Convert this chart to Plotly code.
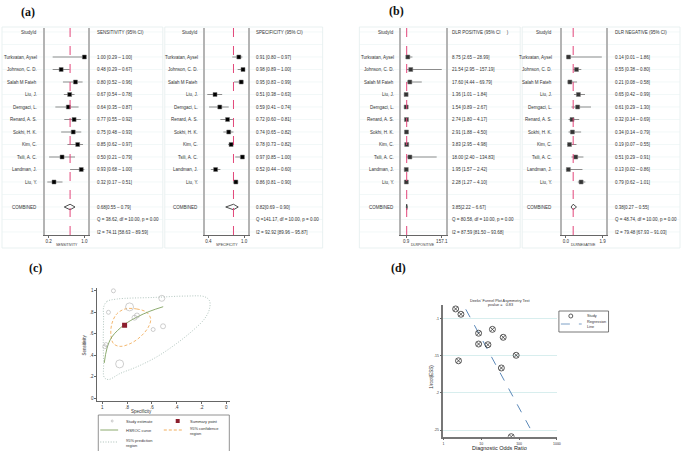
import plotly.graph_objects as go

W, H = 685, 451
FONT = "Liberation Sans Narrow, Liberation Sans, Arial, sans-serif"

# --- data ---
studies = ["Turkvatan, Aysel", "Johnson, C. D.", "Salah M Fateh", "Liu, J.", "Demgaci, L.",
           "Renard, A. S.", "Sokhi, H. K.", "Kim, C.", "Tsili, A. C.", "Landman, J.", "Liu, Y."]

sens = [1.00, 0.48, 0.80, 0.67, 0.64, 0.77, 0.75, 0.85, 0.50, 0.93, 0.32]
sens_lo = [0.29, 0.29, 0.52, 0.54, 0.35, 0.55, 0.48, 0.62, 0.21, 0.68, 0.17]
sens_hi = [1.00, 0.67, 0.96, 0.78, 0.87, 0.92, 0.93, 0.97, 0.79, 1.00, 0.51]
sens_pooled = [0.68, 0.55, 0.79]
sens_stats = ["Q = 38.62, df = 10.00, p = 0.00", "I2 = 74.11 [58.63 – 89.59]"]

spec = [0.91, 0.98, 0.95, 0.51, 0.59, 0.72, 0.74, 0.78, 0.97, 0.52, 0.86]
spec_lo = [0.80, 0.89, 0.83, 0.38, 0.41, 0.60, 0.65, 0.73, 0.85, 0.44, 0.81]
spec_hi = [0.97, 1.00, 0.99, 0.63, 0.74, 0.81, 0.82, 0.82, 1.00, 0.60, 0.90]
spec_pooled = [0.82, 0.69, 0.90]
spec_stats = ["Q =141.17, df = 10.00, p = 0.00", "I2 = 92.92 [89.96 – 95.87]"]

dlrp = [8.75, 21.54, 17.60, 1.36, 1.54, 2.74, 2.91, 3.83, 18.00, 1.95, 2.28]
dlrp_lo = [2.65, 2.95, 4.44, 1.01, 0.89, 1.80, 1.88, 2.95, 2.40, 1.57, 1.27]
dlrp_hi = [28.99, 157.19, 69.79, 1.84, 2.67, 4.17, 4.50, 4.98, 134.83, 2.42, 4.10]
dlrp_pooled = [3.85, 2.22, 6.67]
dlrp_stats = ["Q = 80.58, df = 10.00, p = 0.00", "I2 = 87.59 [81.50 – 93.68]"]

dlrn = [0.14, 0.55, 0.21, 0.65, 0.61, 0.32, 0.34, 0.19, 0.51, 0.13, 0.79]
dlrn_lo = [0.01, 0.38, 0.08, 0.42, 0.29, 0.14, 0.14, 0.07, 0.29, 0.02, 0.62]
dlrn_hi = [1.86, 0.80, 0.58, 0.99, 1.30, 0.69, 0.79, 0.55, 0.91, 0.86, 1.01]
dlrn_pooled = [0.38, 0.27, 0.55]
dlrn_stats = ["Q = 48.74, df = 10.00, p = 0.00", "I2 = 79.48 [67.93 – 91.03]"]

# SROC (panel c)
roc_size = [4, 4, 4, 5, 4, 5, 5, 8, 4, 6, 8]
hsroc_spec = [0.984, 0.963, 0.923, 0.824, 0.723, 0.616, 0.509]
hsroc_sens = [0.329, 0.46, 0.57, 0.683, 0.754, 0.81, 0.852]
conf_spec = [0.816, 0.722, 0.642, 0.61, 0.629, 0.696, 0.776, 0.856, 0.909, 0.93, 0.923, 0.883, 0.816]
conf_sens = [0.831, 0.831, 0.80, 0.739, 0.661, 0.569, 0.508, 0.483, 0.508, 0.584, 0.692, 0.785, 0.831]
pred_spec = [0.989, 0.963, 0.883, 0.589, 0.323, 0.176, 0.136, 0.136, 0.176, 0.27, 0.403,
             0.563, 0.723, 0.856, 0.949, 0.984, 0.989, 0.992, 0.989, 0.989]
pred_sens = [0.846, 0.90, 0.923, 0.938, 0.951, 0.945, 0.908, 0.831, 0.739, 0.631, 0.508,
             0.384, 0.292, 0.231, 0.175, 0.194, 0.323, 0.538, 0.754, 0.846]

# Deeks' funnel plot (panel d)
deeks_dor = [2.1, 2.9, 8.5, 19.7, 38, 8.5, 15, 83.6, 2.5, 34, 61.9]
deeks_iess = [0.0875, 0.0946, 0.120, 0.1148, 0.1255, 0.1345, 0.1354, 0.1496, 0.157, 0.1666, 0.2587]
reg_dor = [3.9, 252]
reg_iess = [0.088, 0.2578]


def px(x):
    return x / W


def py(y):
    return 1 - y / H


fig = go.Figure()
shapes = []
annotations = []


def txt(x, y, s, size=4.5, xanchor="left", yref="paper", color="#333", **kw):
    annotations.append(dict(x=x, y=y, xref="paper", yref=yref, text=s, showarrow=False,
                            xanchor=xanchor, yanchor="middle",
                            font=dict(size=size, color=color, family=FONT), **kw))


forests = [
    dict(est=sens, lo=sens_lo, hi=sens_hi, pooled=sens_pooled, stats=sens_stats,
         header="SENSITIVITY (95% CI)", title="SENSITIVITY", name_x=38, ax=(44, 88), text_x=95,
         box=(1, 163), rng=[0.111, 1.089], tv=[0.2, 1.0], tt=["0.2", "1.0"], mk="black"),
    dict(est=spec, lo=spec_lo, hi=spec_hi, pooled=spec_pooled, stats=spec_stats,
         header="SPECIFICITY (95% CI)", title="SPECIFICITY", name_x=200, ax=(206, 249), text_x=255,
         box=(165, 324), rng=[0.35, 1.067], tv=[0.4, 1.0], tt=["0.4", "1.0"], mk="black"),
    dict(est=dlrp, lo=dlrp_lo, hi=dlrp_hi, pooled=dlrp_pooled, stats=dlrp_stats,
         header="DLR POSITIVE (95% CI     )", title="DLRPOSITIVE", name_x=398, ax=(403, 448), text_x=452,
         box=(361, 523), rng=[-20.8, 174.5], tv=[0.9, 157.1], tt=["0.9", "157.1"], mk="#333"),
    dict(est=dlrn, lo=dlrn_lo, hi=dlrn_hi, pooled=dlrn_pooled, stats=dlrn_stats,
         header="DLR NEGATIVE (95% CI)", title="DLRNEGATIVE", name_x=557, ax=(565, 609), text_x=616,
         box=(525, 684), rng=[-0.205, 2.054], tv=[0.0, 1.9], tt=["0.0", "1.9"], mk="#333"),
]

rows = list(range(2, 2 + len(studies)))
for i, f in enumerate(forests, start=1):
    sfx = "" if i == 1 else str(i)
    xa, ya = "x" + sfx, "y" + sfx
    # faint row lines and panel box
    shapes.append(dict(type="rect", xref="paper", yref="paper", x0=px(f["box"][0]), x1=px(f["box"][1]),
                       y0=py(248), y1=py(27), line=dict(color="#e3eeee", width=0.8), layer="below"))
    for r in range(0, 17):
        shapes.append(dict(type="line", xref="paper", yref=ya, x0=px(f["box"][0]), x1=px(f["box"][1]),
                           y0=r, y1=r, line=dict(color="#eaf4f4", width=0.6), layer="below"))
    cx, cy = [], []
    for k, r in enumerate(rows):
        cx += [f["lo"][k], f["hi"][k], None]
        cy += [r, r, None]
    fig.add_trace(go.Scatter(x=cx, y=cy, mode="lines", line=dict(color="#8c8c8c", width=1),
                             xaxis=xa, yaxis=ya, showlegend=False, hoverinfo="skip"))
    fig.add_trace(go.Scatter(x=f["est"], y=rows, mode="markers",
                             marker=dict(symbol="square", size=4, color=f["mk"],
                                         line=dict(color="#777", width=0.5)),
                             xaxis=xa, yaxis=ya, showlegend=False))
    pe, pl, ph = f["pooled"]
    fig.add_trace(go.Scatter(x=[pl, pe, ph, pe, pl], y=[14, 13.78, 14, 14.22, 14], mode="lines",
                             line=dict(color="#222", width=0.8), xaxis=xa, yaxis=ya, showlegend=False))
    shapes.append(dict(type="line", xref=xa, yref=ya + " domain", x0=pe, x1=pe, y0=0, y1=1,
                       line=dict(color="#e2467a", width=1, dash="dash")))
    fig.update_layout({
        "xaxis" + sfx: dict(domain=[px(f["ax"][0]), px(f["ax"][1])], range=f["rng"], anchor=ya,
                            showline=True, linecolor="#666", linewidth=1, ticks="outside", ticklen=2,
                            tickcolor="#666", tickvals=f["tv"], ticktext=f["tt"], showgrid=False,
                            zeroline=False, tickfont=dict(size=4.5, color="#333", family=FONT)),
        "yaxis" + sfx: dict(domain=[py(235), py(28)], range=[16.24, -0.32], anchor=xa,
                            showline=True, mirror=True, linecolor="#b4b4b4", linewidth=2,
                            showticklabels=False, ticks="", showgrid=False, zeroline=False),
    })
    # text columns
    txt(px(f["name_x"]), 0, "StudyId", xanchor="right", yref=ya)
    txt(px(f["text_x"]), 0, f["header"], yref=ya)
    for k, r in enumerate(rows):
        txt(px(f["name_x"]), r, studies[k], xanchor="right", yref=ya)
        txt(px(f["text_x"]), r, f"{f['est'][k]:.2f} [{f['lo'][k]:.2f} – {f['hi'][k]:.2f}]", yref=ya)
    txt(px(f["name_x"]), 14, "COMBINED", xanchor="right", yref=ya)
    txt(px(f["text_x"]), 14, f"{pe:.2f}[{pl:.2f} – {ph:.2f}]", yref=ya)
    txt(px(f["text_x"]), 15, f["stats"][0], yref=ya)
    txt(px(f["text_x"]), 16, f["stats"][1], yref=ya)
    txt(px(sum(f["ax"]) / 2), py(245), f["title"], size=3.5, xanchor="center")

# --- panel (c): SROC ---
fig.add_trace(go.Scatter(x=pred_spec, y=pred_sens, mode="lines",
                         line=dict(color="#9fb7ae", width=0.8, dash="1px,1.6px"),
                         xaxis="x5", yaxis="y5", showlegend=False, line_shape="spline"))
fig.add_trace(go.Scatter(x=conf_spec, y=conf_sens, mode="lines",
                         line=dict(color="#f0a54a", width=0.8, dash="3px,2px"),
                         xaxis="x5", yaxis="y5", showlegend=False, line_shape="spline"))
fig.add_trace(go.Scatter(x=hsroc_spec, y=hsroc_sens, mode="lines", line=dict(color="#7fa05e", width=0.9),
                         xaxis="x5", yaxis="y5", showlegend=False, line_shape="spline"))
fig.add_trace(go.Scatter(x=spec, y=sens, mode="markers",
                         marker=dict(symbol="circle-open", size=roc_size, color="#a8a8a8", line=dict(width=0.8)),
                         xaxis="x5", yaxis="y5", showlegend=False))
fig.add_trace(go.Scatter(x=[spec_pooled[0]], y=[sens_pooled[0]], mode="markers",
                         marker=dict(symbol="square", size=5, color="#8b1e2d"),
                         xaxis="x5", yaxis="y5", showlegend=False))
roc_ticks = [1, 0.8, 0.6, 0.4, 0.2, 0]
roc_text = ["1", ".8", ".6", ".4", ".2", "0"]
fig.update_layout(
    xaxis5=dict(domain=[px(97), px(231)], range=[1.04, -0.032], anchor="y5", showline=True, linecolor="#666",
                linewidth=1, ticks="outside", ticklen=2, tickcolor="#666", tickvals=roc_ticks, ticktext=roc_text,
                showgrid=False, zeroline=False, tickfont=dict(size=4.5, color="#333", family=FONT)),
    yaxis5=dict(domain=[py(401), py(288)], range=[-0.025, 1.026], anchor="x5", showline=True, linecolor="#666",
                linewidth=1, ticks="outside", ticklen=2, tickcolor="#666", tickvals=roc_ticks, ticktext=roc_text,
                showgrid=False, zeroline=False, tickfont=dict(size=4.5, color="#333", family=FONT)),
)
txt(px(142), py(411), "Specificity", size=4.5, xanchor="center")
txt(px(84), py(345), "Sensitivity", size=4.5, xanchor="center", textangle=-90)
# legend (c)
shapes.append(dict(type="rect", xref="paper", yref="paper", x0=px(98), x1=px(230), y0=py(452), y1=py(415),
                   line=dict(color="#777", width=0.8)))
shapes.append(dict(type="circle", xref="paper", yref="paper", x0=px(111), x1=px(113), y0=py(422), y1=py(420),
                   line=dict(color="#aaa", width=0.6)))
shapes.append(dict(type="rect", xref="paper", yref="paper", x0=px(176), x1=px(180), y0=py(423), y1=py(419),
                   fillcolor="#8b1e2d", line=dict(width=0)))
shapes.append(dict(type="line", xref="paper", yref="paper", x0=px(100), x1=px(118), y0=py(430), y1=py(430),
                   line=dict(color="#7fa05e", width=0.9)))
shapes.append(dict(type="line", xref="paper", yref="paper", x0=px(164), x1=px(183), y0=py(430), y1=py(430),
                   line=dict(color="#f0a54a", width=0.9, dash="3px,2px")))
shapes.append(dict(type="line", xref="paper", yref="paper", x0=px(100), x1=px(118), y0=py(442), y1=py(442),
                   line=dict(color="#9fb7ae", width=0.9, dash="1px,1.6px")))
txt(px(124), py(421), "Study estimate", size=4)
txt(px(188), py(421), "Summary point", size=4)
txt(px(124), py(430), "HSROC curve", size=4)
txt(px(188), py(430.5), "95% confidence<br>region", size=4, align="left")
txt(px(124), py(442.5), "95% prediction<br>region", size=4, align="left")

# --- panel (d): Deeks' funnel plot ---
fig.add_trace(go.Scatter(x=reg_dor, y=reg_iess, mode="lines", line=dict(color="#5b88b8", width=1, dash="dash"),
                         xaxis="x6", yaxis="y6", showlegend=False))
fig.add_trace(go.Scatter(x=deeks_dor, y=deeks_iess, mode="markers",
                         marker=dict(symbol="circle-x-open", size=6, color="#333", line=dict(width=0.8)),
                         xaxis="x6", yaxis="y6", showlegend=False))
fig.update_layout(
    xaxis6=dict(domain=[px(445.7), px(560)], type="log", range=[0, 3], anchor="y6", showline=True,
                linecolor="#777", linewidth=1.5, ticks="outside", ticklen=2, tickcolor="#666",
                tickvals=[1, 10, 100, 1000], ticktext=["1", "10", "100", "1000"], showgrid=False,
                zeroline=False, tickfont=dict(size=3.5, color="#333", family=FONT)),
    yaxis6=dict(domain=[py(436.7), py(305)], range=[0.2587, 0.0822], anchor="x6", showline=True,
                linecolor="#777", linewidth=1.5, ticks="outside", ticklen=2, tickcolor="#666",
                tickvals=[0.1, 0.15, 0.2, 0.25], ticktext=[".1", ".15", ".2", ".25"], showgrid=True,
                gridcolor="#d8eeee", gridwidth=0.6, zeroline=False,
                tickfont=dict(size=3.5, color="#333", family=FONT)),
)
txt(px(503), py(300.5), "Deeks' Funnel Plot Asymmetry Test", size=3.8, xanchor="center")
txt(px(503), py(304.5), "pvalue =   0.83", size=3.8, xanchor="center")
txt(px(502), py(447.5), "Diagnostic Odds Ratio", size=5.5, xanchor="center", color="#222")
txt(px(433), py(377), "1/root(ESS)", size=4.5, xanchor="center", textangle=-90)
# legend (d)
shapes.append(dict(type="rect", xref="paper", yref="paper", x0=px(562), x1=px(612), y0=py(332), y1=py(311),
                   line=dict(color="#555", width=0.8)))
shapes.append(dict(type="circle", xref="paper", yref="paper", x0=px(572), x1=px(576), y0=py(318), y1=py(314),
                   line=dict(color="#333", width=0.8)))
shapes.append(dict(type="line", xref="paper", yref="paper", x0=px(564), x1=px(585), y0=py(324), y1=py(324),
                   line=dict(color="#5b88b8", width=0.8, dash="dash")))
txt(px(588), py(316), "Study", size=3.8)
txt(px(588), py(324.5), "Regression<br>Line", size=3.8, align="left")

# panel labels
for lab, x, y in [("(a)", 27, 12), ("(b)", 398, 11), ("(c)", 35, 268), ("(d)", 400, 268)]:
    annotations.append(dict(x=px(x), y=py(y), xref="paper", yref="paper", text=f"<b>{lab}</b>", showarrow=False,
                            xanchor="center", yanchor="middle",
                            font=dict(size=12, color="#111", family="Liberation Serif, serif")))

fig.update_layout(width=W, height=H, margin=dict(l=0, r=0, t=0, b=0), plot_bgcolor="white",
                  paper_bgcolor="white", shapes=shapes, annotations=annotations, showlegend=False)

# drop the browser's default 8px body margin so the figure sits at the page corner
fig.write_html("out.html", config={"displayModeBar": False},
               post_script="document.body.style.margin='0';")
